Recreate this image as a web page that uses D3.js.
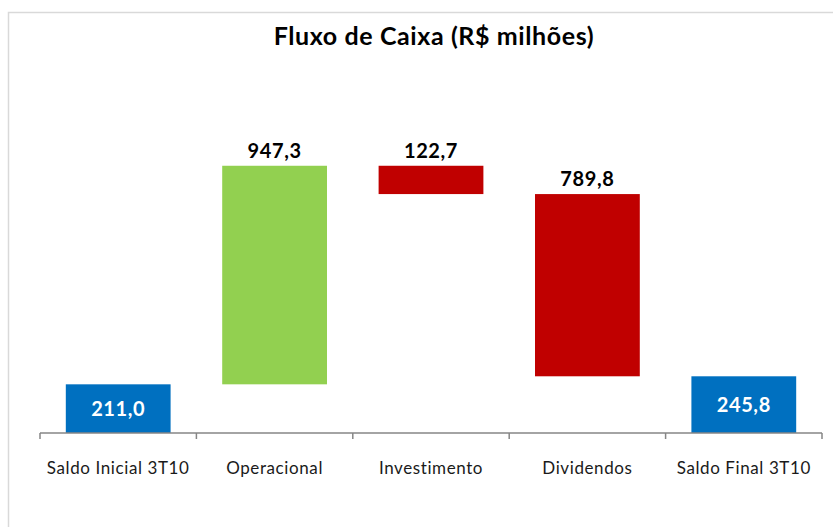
<!DOCTYPE html>
<html>
<head>
<meta charset="utf-8">
<script src="https://d3js.org/d3.v7.min.js"></script>
<style>
    body { margin: 0; background: white; }
    text { font-family: Lato, "Open Sans", sans-serif; }
</style>
</head>
<body>
<svg></svg>
<script>
var categories = ["Saldo Inicial 3T10", "Operacional", "Investimento", "Dividendos", "Saldo Final 3T10"];
var values = [211.0, 947.3, -122.7, -789.8, 245.8];
var kinds = ["total", "delta", "delta", "delta", "total"];
var labels = ["211,0", "947,3", "122,7", "789,8", "245,8"];

var screen = {width: 833, height: 527};
var colors = {total: "#0070C0", up: "#92D050", down: "#C00000"};

// build running start/end for the waterfall
var build = function()
{
    var running = 0;
    return categories.map(function(cat, i)
    {
        var d = {cat: cat, label: labels[i], kind: kinds[i]};
        if (kinds[i] == "total")
        {
            d.start = 0;
            d.end = values[i];
            running = values[i];
        }
        else
        {
            d.start = running;
            d.end = running + values[i];
            running = d.end;
        }
        return d;
    });
}

var setup = function(dataset)
{
    var svg = d3.select("svg")
        .attr("width", screen.width)
        .attr("height", screen.height);

    // chart frame
    svg.append("rect")
        .attr("x", 8.5)
        .attr("y", 12.5)
        .attr("width", 900)
        .attr("height", 600)
        .attr("fill", "white")
        .attr("stroke", "#d9d9d9")
        .attr("stroke-width", 1.5);

    svg.append("text")
        .attr("x", 434)
        .attr("y", 45)
        .attr("text-anchor", "middle")
        .attr("font-size", 25)
        .attr("font-weight", "bold")
        .attr("letter-spacing", 0.6)
        .attr("fill", "black")
        .text("Fluxo de Caixa (R$ milhões)");

    var xScale = d3.scaleBand()
        .domain(categories)
        .range([40, 822])
        .paddingInner(0.33)
        .paddingOuter(0.165);

    var yScale = d3.scaleLinear()
        .domain([0, 1400])
        .range([433, 110]);

    var xAxis = d3.axisBottom(xScale)
        .tickSize(0)
        .tickPadding(0);

    var axis = svg.append("g")
        .attr("id", "xAxis")
        .attr("transform", "translate(0,433)")
        .call(xAxis);

    axis.select(".domain").remove();
    axis.selectAll("text")
        .attr("dy", 0)
        .attr("y", 41)
        .attr("font-size", 17)
        .attr("letter-spacing", 0.6)
        .attr("fill", "#1a1a1a")
        .style("font-family", "Lato, 'Open Sans', sans-serif");

    draw(dataset, xScale, yScale);

    // axis line and boundary ticks drawn over the bars
    var bounds = d3.range(categories.length + 1).map(function(i)
    {
        return 40 + i * (782 / categories.length);
    });
    svg.append("line")
        .attr("x1", 40)
        .attr("x2", 822)
        .attr("y1", 433)
        .attr("y2", 433)
        .attr("stroke", "#868686")
        .attr("stroke-width", 1.5);
    svg.selectAll(".btick")
        .data(bounds)
        .enter()
        .append("line")
        .attr("class", "btick")
        .attr("x1", function(b){return b;})
        .attr("x2", function(b){return b;})
        .attr("y1", 433)
        .attr("y2", 439)
        .attr("stroke", "#868686")
        .attr("stroke-width", 1.5);
}

var draw = function(dataset, xScale, yScale)
{
    var graph = d3.select("svg")
        .append("g")
        .attr("id", "graph1");

    graph.selectAll("rect")
        .data(dataset)
        .enter()
        .append("rect")
        .attr("x", function(d){return xScale(d.cat);})
        .attr("width", xScale.bandwidth())
        .attr("y", function(d){return yScale(Math.max(d.start, d.end));})
        .attr("height", function(d){return Math.abs(yScale(d.start) - yScale(d.end));})
        .attr("fill", function(d)
        {
            if (d.kind == "total") return colors.total;
            return d.end >= d.start ? colors.up : colors.down;
        });

    graph.selectAll(".vlabel")
        .data(dataset)
        .enter()
        .append("text")
        .attr("class", "vlabel")
        .attr("x", function(d){return xScale(d.cat) + xScale.bandwidth() / 2;})
        .attr("y", function(d)
        {
            if (d.kind == "total") return (yScale(0) + yScale(d.end)) / 2 + 7;
            return yScale(Math.max(d.start, d.end)) - 8;
        })
        .attr("text-anchor", "middle")
        .attr("font-size", 20)
        .attr("font-weight", "bold")
        .attr("letter-spacing", 0.6)
        .attr("fill", function(d){return d.kind == "total" ? "white" : "black";})
        .text(function(d){return d.label;});
}

setup(build());
</script>
</body>
</html>
